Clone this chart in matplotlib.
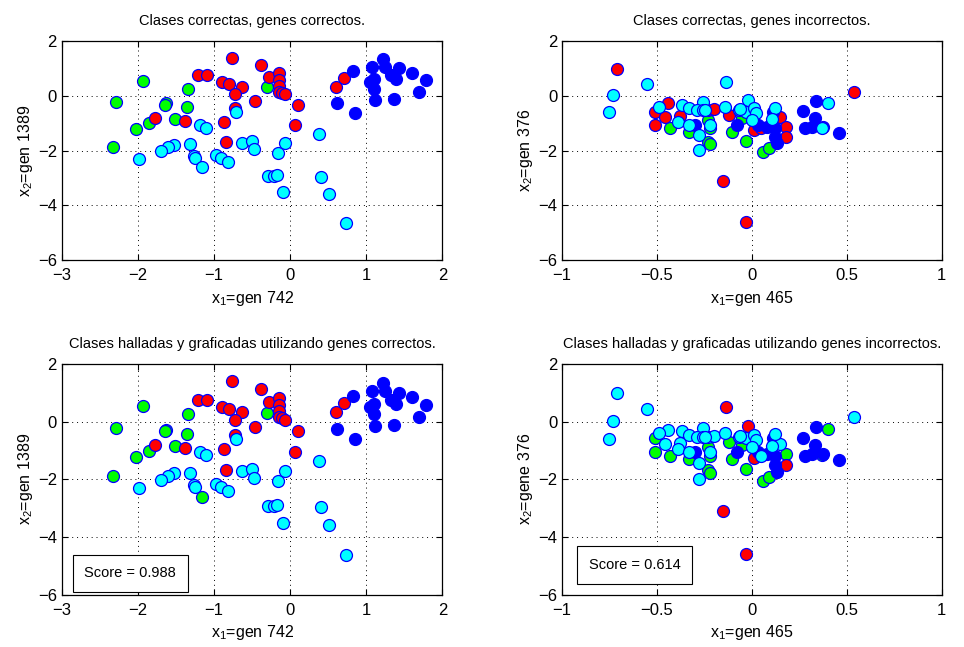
import matplotlib
matplotlib.use('Agg')
import matplotlib.pyplot as plt
from matplotlib.ticker import FuncFormatter
import numpy as np

plt.rcParams['font.family'] = ['Liberation Sans', 'DejaVu Sans']
plt.rcParams['mathtext.fontset'] = 'custom'
plt.rcParams['mathtext.rm'] = 'Liberation Sans'
plt.rcParams['mathtext.it'] = 'Liberation Sans'

# genes 742 / 1389 (left column)
left_x = [-1.93, -2.29, -2.32, -2.02, -1.85, -1.63, -1.64, -1.51, -1.34, -1.35, -0.30,
          -0.76, -1.21, -1.09, -0.90, -0.80, -0.63, -0.73, -0.46, -0.72, -1.78, -1.38, -0.87,
          -0.84, -0.38, -0.28, -0.15, -0.15, -0.15, -0.15, -0.11, -0.07, 0.10, 0.06, 0.60, 0.71,
          0.82, 0.62, 0.85, 1.08, 1.22, 1.25, 1.43, 1.60, 1.78, 1.32, 1.39, 1.10, 1.05, 1.10,
          1.12, 1.36, 1.69,
          -0.71, -1.18, -1.11, -0.63, -0.50, -0.48, -1.32, -1.52, -1.61, -1.69, -1.99, -1.26,
          -1.25, -0.98, -0.91, -0.82, -1.16, -0.16, -0.29, -0.21, -0.17, -0.09, 0.41, 0.51,
          0.73, 0.38, -0.07]
left_y = [0.56, -0.23, -1.88, -1.22, -1.00, -0.27, -0.33, -0.85, 0.26, -0.41, 0.32,
          1.41, 0.77, 0.77, 0.52, 0.44, 0.33, 0.06, -0.17, -0.45, -0.82, -0.91, -0.96,
          -1.67, 1.13, 0.68, 0.83, 0.58, 0.38, 0.16, 0.13, 0.07, -0.32, -1.06, 0.33, 0.65,
          0.91, -0.24, -0.61, 1.07, 1.34, 1.07, 1.01, 0.85, 0.58, 0.77, 0.61, 0.61, 0.50, 0.26,
          -0.15, -0.11, 0.16,
          -0.60, -1.06, -1.15, -1.71, -1.65, -1.95, -1.77, -1.79, -1.88, -2.01, -2.31, -2.18,
          -2.28, -2.16, -2.26, -2.40, -2.61, -2.07, -2.93, -2.91, -2.89, -3.50, -2.97, -3.60,
          -4.64, -1.37, -1.71]
left_true = list('g' * 11 + 'r' * 25 + 'b' * 17 + 'c' * 27)
left_pred = list('g' * 11 + 'r' * 25 + 'b' * 17 + 'c' * 16 + 'g' + 'c' * 10)

# genes 465 / 376 (right column)
right_x = [-0.71, -0.44, -0.51, -0.46, -0.51, -0.38, -0.23, -0.20, -0.12, 0.01, 0.05,
           0.15, 0.18, 0.18, 0.54, -0.15, -0.03,
           -0.43, -0.33, -0.23, -0.22, -0.23, -0.22, -0.05, -0.105, -0.03, 0.06, 0.09,
           -0.30, -0.08, 0.03, 0.08, 0.11, 0.12, 0.12, 0.13, 0.34, 0.27, 0.33, 0.28, 0.315,
           0.375, 0.46,
           -0.555, -0.73, -0.75, -0.137, -0.49, -0.37, -0.33, -0.39, -0.33, -0.28, -0.26, -0.29,
           -0.26, -0.245, -0.22, -0.28, -0.14, -0.07, -0.02, -0.03, 0.01, 0.02, 0.0, 0.12,
           0.105, 0.40, 0.37, -0.065]
right_y = [0.99, -0.27, -0.57, -0.78, -1.06, -0.72, -0.51, -0.48, -0.69, -1.24, -1.18,
           -0.76, -1.12, -1.49, 0.16, -3.10, -4.60,
           -1.18, -1.30, -0.88, -1.18, -1.67, -1.77, -0.82, -1.30, -1.65, -2.04, -1.91,
           -1.04, -1.04, -1.06, -1.12, -0.57, -1.18, -1.49, -1.73, -0.18, -0.55, -0.79, -1.18,
           -1.12, -1.12, -1.34,
           0.44, 0.03, -0.60, 0.51, -0.39, -0.33, -0.45, -0.96, -1.04, -1.43, -0.21, -0.51,
           -0.51, -0.51, -1.06, -1.97, -0.39, -0.51, -0.15, -0.57, -0.45, -0.63, -0.88, -0.43,
           -0.84, -0.24, -1.16, -0.48]
right_true = list('r' * 17 + 'g' * 11 + 'b' * 15 + 'c' * 28)
right_pred = list('ccgcgcccgrccgrcrr' + 'g' * 11 + 'b' * 15 +
                  'cccr' + 'c' * 14 + 'r' + 'c' * 6 + 'ggc')

scores = ['Score = 0.988', 'Score = 0.614']

colors = {'r': (1, 0, 0), 'g': (0, 1, 0), 'b': (0, 0, 1), 'c': (0, 1, 1)}

# matlab style tick labels: -0.5, 0, 1 (no trailing .0)
fmt = FuncFormatter(lambda v, p: ('%g' % v).replace('-', '\u2212'))


def draw(ax, xs, ys, cls, title, xlab, ylab, xlim, xticks):
    xs = np.array(xs)
    ys = np.array(ys)
    cls = np.array(cls)
    for k in ['g', 'r', 'b', 'c']:
        m = cls == k
        ax.plot(xs[m], ys[m], 'o', ms=8.6, mfc=colors[k], mec='b', mew=0.9, ls='none')
    ax.set_xlim(xlim)
    ax.set_ylim(-6, 2)
    ax.set_xticks(xticks)
    ax.set_yticks([-6, -4, -2, 0, 2])
    ax.xaxis.set_major_formatter(fmt)
    ax.yaxis.set_major_formatter(fmt)
    ax.grid(True, color='k', ls=(0, (1, 4)), lw=0.7)
    ax.tick_params(direction='in', top=True, right=True, labelsize=12, length=4)
    ax.tick_params(axis='x', pad=6)
    ax.set_title(title, fontsize=10.5, pad=12)
    ax.set_xlabel(xlab, fontsize=11.5, labelpad=4)
    ax.set_ylabel(ylab, fontsize=11.5, labelpad=2)
    for s in ax.spines.values():
        s.set_linewidth(0.9)


fig = plt.figure(figsize=(9.64, 6.47), dpi=100)
ax1 = fig.add_axes([0.064, 0.598, 0.395, 0.338])
ax2 = fig.add_axes([0.583, 0.598, 0.394, 0.338])
ax3 = fig.add_axes([0.064, 0.081, 0.395, 0.356])
ax4 = fig.add_axes([0.583, 0.081, 0.394, 0.356])

draw(ax1, left_x, left_y, left_true, 'Clases correctas, genes correctos.',
     'x$_1$=gen 742', 'x$_2$=gen 1389', (-3, 2), [-3, -2, -1, 0, 1, 2])
draw(ax2, right_x, right_y, right_true, 'Clases correctas, genes incorrectos.',
     'x$_1$=gen 465', 'x$_2$=gen 376', (-1, 1), [-1, -0.5, 0, 0.5, 1])
draw(ax3, left_x, left_y, left_pred, 'Clases halladas y graficadas utilizando genes correctos.',
     'x$_1$=gen 742', 'x$_2$=gen 1389', (-3, 2), [-3, -2, -1, 0, 1, 2])
draw(ax4, right_x, right_y, right_pred, 'Clases halladas y graficadas utilizando genes incorrectos.',
     'x$_1$=gen 465', 'x$_2$=gene 376', (-1, 1), [-1, -0.5, 0, 0.5, 1])

ax3.text(0.18, 0.093, scores[0], transform=ax3.transAxes, ha='center', va='center',
         fontsize=10.5, bbox=dict(boxstyle='square,pad=0.8', fc='w', ec='k', lw=0.8))
ax4.text(0.192, 0.128, scores[1], transform=ax4.transAxes, ha='center', va='center',
         fontsize=10.5, bbox=dict(boxstyle='square,pad=0.8', fc='w', ec='k', lw=0.8))

fig.savefig('out.png', dpi=100)
